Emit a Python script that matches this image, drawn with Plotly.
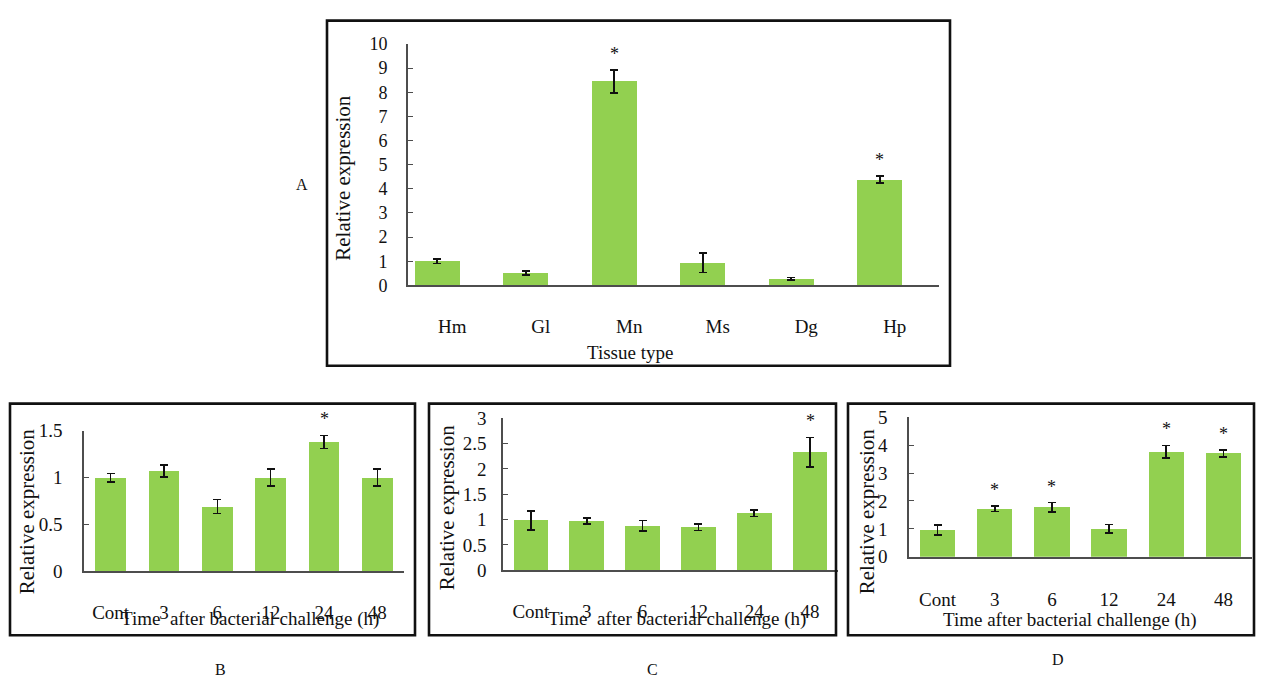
import plotly.graph_objects as go

W, H = 1264, 688

# ---- data -------------------------------------------------------------
tissues = ["Hm", "Gl", "Mn", "Ms", "Dg", "Hp"]
tissue_expr = [1.0, 0.52, 8.45, 0.93, 0.27, 4.38]
tissue_err = [0.1, 0.08, 0.48, 0.4, 0.05, 0.15]
tissue_sig = [False, False, True, False, False, True]

times = ["Cont", "3", "6", "12", "24", "48"]

b_expr = [1.0, 1.07, 0.69, 1.0, 1.38, 1.0]
b_err = [0.045, 0.065, 0.075, 0.09, 0.07, 0.09]
b_sig = [False, False, False, False, True, False]

c_expr = [0.98, 0.97, 0.88, 0.85, 1.13, 2.33]
c_err = [0.19, 0.06, 0.1, 0.065, 0.065, 0.29]
c_sig = [False, False, False, False, False, True]

d_expr = [0.96, 1.72, 1.77, 1.0, 3.76, 3.7]
d_err = [0.17, 0.1, 0.17, 0.15, 0.23, 0.12]
d_sig = [False, True, True, False, True, True]

# ---- styling ----------------------------------------------------------
GREEN = "#92D050"
AXIS = "#4d4d4d"
INK = "#111111"
SERIF = "Liberation Serif"


def px_x(v):
    return v / W


def px_y(v):
    return 1 - v / H


# panel geometry in pixels: (x0, x1) and (y at zero, y at top of range)
panels = {
    "A": dict(x=(408, 939), y=(284, 35), yrange=10, dtick=1, cats=tissues,
              vals=tissue_expr, errs=tissue_err, sig=tissue_sig,
              width=0.51, shift=-0.17, xfs=19, yfs=18, xstand=23, ystand=15),
    "B": dict(x=(84, 404), y=(579, 434), yrange=1.5, dtick=0.5, cats=times,
              vals=b_expr, errs=b_err, sig=b_sig,
              width=0.58, shift=0.0, xfs=19, yfs=19, xstand=23, ystand=16),
    "C": dict(x=(503, 838), y=(578, 421), yrange=3, dtick=0.5, cats=times,
              vals=c_expr, errs=c_err, sig=c_sig,
              width=0.62, shift=0.0, xfs=19, yfs=19, xstand=23, ystand=11),
    "D": dict(x=(909, 1252), y=(564, 420), yrange=5, dtick=1, cats=times,
              vals=d_expr, errs=d_err, sig=d_sig,
              width=0.62, shift=0.0, xfs=19, yfs=19, xstand=25, ystand=16),
}

fig = go.Figure()
annotations = []

for i, (name, p) in enumerate(panels.items(), start=1):
    suffix = "" if i == 1 else str(i)
    xa, ya = "x" + suffix, "y" + suffix

    fig.add_trace(go.Bar(
        x=p["cats"], y=p["vals"],
        width=p["width"], offset=-p["width"] / 2 + p["shift"],
        marker=dict(color=GREEN, line=dict(width=0)),
        error_y=dict(type="data", array=p["errs"], visible=True,
                     color=INK, thickness=1.6, width=4),
        xaxis=xa, yaxis=ya, showlegend=False, hoverinfo="skip",
    ))

    # significance asterisks above the error bars
    for k, (v, e, s) in enumerate(zip(p["vals"], p["errs"], p["sig"])):
        if s:
            annotations.append(dict(
                x=k + p["shift"], y=v + e, xref=xa, yref=ya,
                text="*", showarrow=False, yanchor="bottom", yshift=4,
                font=dict(family=SERIF, size=18, color=INK),
            ))

    fig.layout["xaxis" + suffix] = dict(
        domain=[px_x(p["x"][0]), px_x(p["x"][1])],
        anchor=ya, type="category", range=[-0.5, 5.5],
        showline=True, linecolor=AXIS, linewidth=1.6,
        ticks="", showgrid=False, zeroline=False,
        tickfont=dict(family=SERIF, size=p["xfs"], color=INK),
        ticklabelstandoff=p["xstand"], fixedrange=True,
    )
    fig.layout["yaxis" + suffix] = dict(
        domain=[px_y(p["y"][0]), px_y(p["y"][1])],
        anchor=xa, range=[0, p["yrange"]], dtick=p["dtick"], tick0=0,
        showline=True, linecolor=AXIS, linewidth=1.6,
        ticks="inside", ticklen=5, tickwidth=1.4, tickcolor=AXIS,
        showgrid=False, zeroline=False,
        tickfont=dict(family=SERIF, size=p["yfs"], color=INK),
        ticklabelstandoff=p["ystand"], fixedrange=True,
    )


def text_ann(x, y, text, size, angle=0):
    annotations.append(dict(
        x=px_x(x), y=px_y(y), xref="paper", yref="paper",
        text=text, showarrow=False, textangle=angle,
        xanchor="center", yanchor="middle",
        font=dict(family=SERIF, size=size, color=INK),
    ))


# axis titles
text_ann(343, 173, "Relative expression", 21, -90)
text_ann(630, 353, "Tissue type", 19)
text_ann(27, 517, "Relative expression", 21, -90)
text_ann(250, 628, "Time  after bacterial challenge (h)", 19)
text_ann(447, 513, "Relative expression", 21, -90)
text_ann(677, 628, "Time  after bacterial challenge (h)", 19)
text_ann(867, 517, "Relative expression", 21, -90)
text_ann(1070, 629, "Time after bacterial challenge (h)", 19)

# panel letters
text_ann(302, 180, "A", 16)
text_ann(221, 680, "B", 16)
text_ann(652, 680, "C", 16)
text_ann(1058, 670, "D", 16)

# chart frames
frames = [(327, 11, 950, 367), (10, 406, 415, 645), (429, 406, 836, 645), (848, 406, 1254, 645)]
shapes = [dict(type="rect", xref="paper", yref="paper",
               x0=px_x(a), x1=px_x(c), y0=px_y(d), y1=px_y(b),
               line=dict(color=INK, width=2.6), fillcolor="rgba(0,0,0,0)")
          for a, b, c, d in frames]

fig.update_layout(
    width=W, height=H, margin=dict(l=0, r=0, t=0, b=0),
    paper_bgcolor="white", plot_bgcolor="white",
    annotations=annotations, shapes=shapes, bargap=0,
)

fig.write_html("out.html", config=dict(displayModeBar=False))
